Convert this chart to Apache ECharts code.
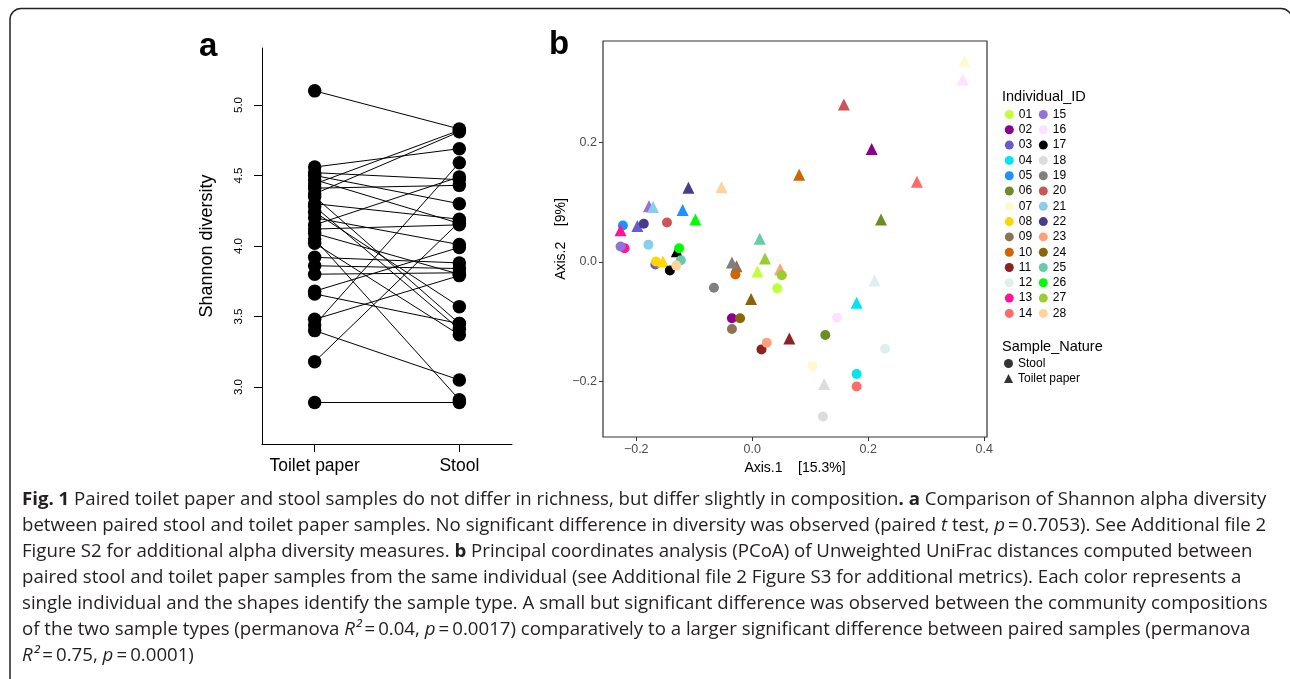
<!DOCTYPE html>
<html>
<head>
<meta charset="UTF-8">
<script src="https://cdn.jsdelivr.net/npm/echarts@6/dist/echarts.min.js"></script>
<style>
  html, body { margin: 0; padding: 0; background: #fff; }
  #main { width: 1290px; height: 679px; }
</style>
</head>
<body>
<div id="main"></div>
<script type="text/javascript">
    // panel a: Shannon diversity, paired (same index = same individual)
    var toiletPaper = [5.10, 4.56, 4.52, 4.50, 4.47, 4.44, 4.41, 4.37, 4.35, 4.28, 4.24, 4.20, 4.15, 4.12,
        4.09, 4.05, 4.02, 4.30, 3.92, 3.86, 3.80, 3.68, 3.66, 3.48, 3.44, 3.40, 3.18, 2.89];
    var stool = [4.83, 4.69, 4.47, 4.30, 4.16, 4.82, 4.43, 4.81, 3.45, 3.41, 3.57, 4.01, 4.49, 4.15,
        3.80, 2.91, 3.37, 4.19, 3.88, 3.84, 3.81, 3.99, 3.45, 3.79, 4.59, 3.05, 4.17, 2.89];
    var aTicks = [3.0, 3.5, 4.0, 4.5, 5.0];

    // panel b: PCoA coordinates per individual
    var ids = ['01', '02', '03', '04', '05', '06', '07', '08', '09', '10', '11', '12', '13', '14',
        '15', '16', '17', '18', '19', '20', '21', '22', '23', '24', '25', '26', '27', '28'];
    var colors = ['#C0FF3E', '#8B008B', '#6A5ACD', '#00E5EE', '#1E90FF', '#6B8E23', '#FFFACD', '#FFD700',
        '#8B7355', '#CD6600', '#8B2323', '#E0EEEE', '#FF1493', '#FF6A6A', '#9370DB', '#FFE1FF',
        '#000000', '#DCDCDC', '#808080', '#CD5555', '#87CEEB', '#483D8B', '#FFA07A', '#8B6508',
        '#66CDAA', '#00FF00', '#9ACD32', '#FFD39B'];
    var stoolX = [0.043, -0.035, -0.167, 0.180, -0.223, 0.126, 0.104, -0.166, -0.035, -0.029, 0.016, 0.229, -0.220, 0.180,
        -0.227, 0.146, -0.142, 0.122, -0.066, -0.147, -0.179, -0.187, 0.025, -0.021, -0.123, -0.126, 0.051, -0.131];
    var stoolY = [-0.044, -0.094, -0.004, -0.187, 0.061, -0.122, -0.174, 0.001, -0.112, -0.021, -0.146, -0.145, 0.023, -0.208,
        0.026, -0.093, -0.014, -0.258, -0.043, 0.066, 0.029, 0.064, -0.135, -0.094, 0.003, 0.023, -0.022, -0.006];
    var paperX = [0.009, 0.206, -0.198, 0.180, -0.120, 0.222, 0.366, -0.154, -0.027, 0.081, 0.064, 0.211, -0.227, 0.284,
        -0.178, 0.363, -0.130, 0.124, -0.035, 0.158, -0.171, -0.110, 0.048, -0.002, 0.013, -0.098, 0.022, -0.053];
    var paperY = [-0.016, 0.189, 0.060, -0.068, 0.087, 0.071, 0.336, 0.001, -0.007, 0.146, -0.128, -0.031, 0.053, 0.134,
        0.093, 0.305, 0.018, -0.204, -0.001, 0.263, 0.092, 0.124, -0.012, -0.062, 0.039, 0.071, 0.006, 0.125];
    var bTicksX = [-0.2, 0.0, 0.2, 0.4];
    var bTicksY = [-0.2, 0.0, 0.2];

    var caption = [
        '{b|Fig. 1} Paired toilet paper and stool samples do not differ in richness, but differ slightly in composition{b|. a} Comparison of Shannon alpha diversity',
        'between paired stool and toilet paper samples. No significant difference in diversity was observed (paired {i|t} test, {i|p}\u2009=\u20090.7053). See Additional file 2',
        'Figure S2 for additional alpha diversity measures. {b|b} Principal coordinates analysis (PCoA) of Unweighted UniFrac distances computed between',
        'paired stool and toilet paper samples from the same individual (see Additional file 2 Figure S3 for additional metrics). Each color represents a',
        'single individual and the shapes identify the sample type. A small but significant difference was observed between the community compositions',
        'of the two sample types (permanova {i|R\u00b2}\u2009=\u20090.04, {i|p}\u2009=\u20090.0017) comparatively to a larger significant difference between paired samples (permanova',
        '{i|R\u00b2}\u2009=\u20090.75, {i|p}\u2009=\u20090.0001)'
    ];

    var sans = 'Liberation Sans, Arial, sans-serif';
    var capFont = 'Open Sans, Noto Sans, sans-serif';
    var capSize = 18.2;

    function minus(v) {
        return (v < 0 ? '\u2212' : '') + Math.abs(v).toFixed(1);
    }

    var series = [];
    series.push({
        type: 'lines',
        coordinateSystem: 'cartesian2d',
        xAxisIndex: 0,
        yAxisIndex: 0,
        silent: true,
        lineStyle: {color: '#000', width: 1, opacity: 1},
        data: toiletPaper.map(function (v, i) {
            return {coords: [[1, v], [2, stool[i]]]};
        })
    });
    series.push({
        type: 'scatter',
        xAxisIndex: 0,
        yAxisIndex: 0,
        symbolSize: 13.5,
        itemStyle: {color: '#000', opacity: 1},
        data: toiletPaper.map(function (v) { return [1, v]; })
            .concat(stool.map(function (v) { return [2, v]; }))
    });
    for (var i = 0; i < ids.length; i++) {
        series.push({
            name: ids[i],
            type: 'scatter',
            xAxisIndex: 1,
            yAxisIndex: 1,
            itemStyle: {color: colors[i], opacity: 1},
            data: [
                {value: [stoolX[i], stoolY[i]], symbol: 'circle', symbolSize: 10},
                {value: [paperX[i], paperY[i]], symbol: 'triangle', symbolSize: 12}
            ]
        });
    }
    // legend-only series for the shape key
    series.push({name: 'Stool', type: 'scatter', xAxisIndex: 1, yAxisIndex: 1, itemStyle: {color: '#000'}, data: []});
    series.push({name: 'Toilet paper', type: 'scatter', xAxisIndex: 1, yAxisIndex: 1, itemStyle: {color: '#000'}, data: []});

    var legendBase = {
        orient: 'vertical',
        top: 108,
        padding: 0,
        icon: 'circle',
        itemWidth: 9,
        itemHeight: 9,
        itemGap: 2.3,
        selectedMode: false,
        textStyle: {fontFamily: sans, fontSize: 12, lineHeight: 13, color: '#000'}
    };

    var graphics = [
        {type: 'rect', shape: {x: 10, y: 8.5, width: 1282, height: 690, r: 11},
            style: {fill: 'none', stroke: '#222', lineWidth: 1.5}},
        {type: 'text', x: 199, y: 63, style: {text: 'a', font: 'bold 33px ' + sans, fill: '#000', textVerticalAlign: 'bottom'}},
        {type: 'text', x: 549, y: 61, style: {text: 'b', font: 'bold 33px ' + sans, fill: '#000', textVerticalAlign: 'bottom'}},
        {type: 'text', x: 1002, y: 97, style: {text: 'Individual_ID', font: '14.5px ' + sans, fill: '#000', textVerticalAlign: 'middle'}},
        {type: 'text', x: 1002, y: 347, style: {text: 'Sample_Nature', font: '14.5px ' + sans, fill: '#000', textVerticalAlign: 'middle'}}
    ];
    caption.forEach(function (line, k) {
        graphics.push({
            type: 'text', x: 22, y: 500 + k * 26, scaleX: 1.025,
            style: {
                text: line,
                font: capSize + 'px ' + capFont,
                fill: '#231f20',
                textVerticalAlign: 'middle',
                rich: {
                    b: {fontWeight: 'bold', fontSize: capSize, fontFamily: capFont, fill: '#231f20'},
                    i: {fontStyle: 'italic', fontSize: capSize, fontFamily: capFont, fill: '#231f20'}
                }
            }
        });
    });

    var option = {
        animation: false,
        backgroundColor: '#fff',
        grid: [
            {left: 262, top: 48, width: 250, height: 396, containLabel: false},
            {left: 603, top: 41, width: 384, height: 396, show: true, borderColor: '#333', borderWidth: 1.2,
                backgroundColor: 'transparent', containLabel: false}
        ],
        xAxis: [
            {
                type: 'value', gridIndex: 0, min: 0.636, max: 2.364,
                splitLine: {show: false},
                axisLine: {show: true, onZero: false, lineStyle: {color: '#000', width: 1}},
                axisTick: {show: true, customValues: [1, 2], length: 8, lineStyle: {color: '#000'}},
                axisLabel: {
                    customValues: [1, 2], margin: 13, color: '#000', fontSize: 17.5, fontFamily: sans,
                    formatter: function (v) { return v === 1 ? 'Toilet paper' : 'Stool'; }
                }
            },
            {
                type: 'value', gridIndex: 1, min: -0.2573, max: 0.4048,
                splitLine: {show: false},
                axisLine: {show: false, onZero: false},
                axisTick: {show: true, customValues: bTicksX, length: 4, lineStyle: {color: '#333'}},
                axisLabel: {customValues: bTicksX, margin: 6, color: '#4d4d4d', fontSize: 12.5, fontFamily: sans, formatter: minus},
                name: 'Axis.1    [15.3%]', nameLocation: 'middle', nameGap: 22,
                nameTextStyle: {color: '#000', fontSize: 14, fontFamily: sans}
            }
        ],
        yAxis: [
            {
                type: 'value', gridIndex: 0, min: 2.596, max: 5.404,
                splitLine: {show: false},
                axisLine: {show: true, onZero: false, lineStyle: {color: '#000', width: 1}},
                axisTick: {show: true, customValues: aTicks, length: 8, lineStyle: {color: '#000'}},
                axisLabel: {
                    customValues: aTicks, rotate: 90, margin: 17, color: '#000', fontSize: 11.5, fontFamily: sans,
                    formatter: function (v) { return v.toFixed(1); }
                },
                name: 'Shannon diversity', nameLocation: 'middle', nameRotate: 90, nameGap: 46,
                nameTextStyle: {color: '#000', fontSize: 18, fontFamily: sans}
            },
            {
                type: 'value', gridIndex: 1, min: -0.2924, max: 0.3693,
                splitLine: {show: false},
                axisLine: {show: false, onZero: false},
                axisTick: {show: true, customValues: bTicksY, length: 4, lineStyle: {color: '#333'}},
                axisLabel: {customValues: bTicksY, margin: 6, color: '#4d4d4d', fontSize: 12.5, fontFamily: sans, formatter: minus},
                name: 'Axis.2    [9%]', nameLocation: 'middle', nameRotate: 90, nameGap: 33,
                nameTextStyle: {color: '#000', fontSize: 14, fontFamily: sans}
            }
        ],
        legend: [
            Object.assign({}, legendBase, {left: 1004.8, data: ids.slice(0, 14)}),
            Object.assign({}, legendBase, {left: 1038.8, data: ids.slice(14)}),
            Object.assign({}, legendBase, {
                left: 1004, top: 357, itemGap: 2,
                textStyle: {fontFamily: sans, fontSize: 12, lineHeight: 13, color: '#000'},
                data: [{name: 'Stool', icon: 'circle'}, {name: 'Toilet paper', icon: 'triangle'}]
            })
        ],
        graphic: graphics,
        series: series
    };

    var myChart = echarts.init(document.getElementById('main'));
    myChart.setOption(option);
</script>
</body>
</html>
